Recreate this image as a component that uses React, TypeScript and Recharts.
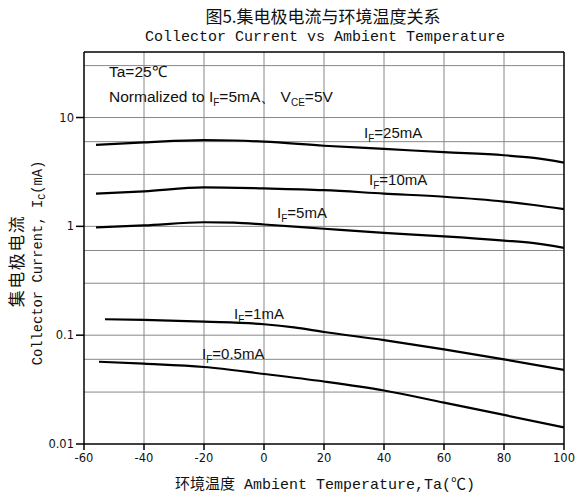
import React from 'react';
import { LineChart, Line, XAxis, YAxis, CartesianGrid, ReferenceLine } from 'recharts';

// temperatures (°C) and collector current (mA) per forward current
const temps25 = [-56, -40, -20, -10, 0, 20, 40, 60, 80, 90, 100];
const ic25 = [5.6, 5.9, 6.2, 6.15, 6.0, 5.5, 5.15, 4.8, 4.5, 4.25, 3.85];

const temps10 = [-56, -40, -20, 0, 20, 40, 60, 80, 90, 100];
const ic10 = [2.0, 2.1, 2.28, 2.23, 2.15, 2.0, 1.87, 1.69, 1.57, 1.44];

const temps5 = [-56, -40, -20, -10, 0, 20, 40, 60, 80, 90, 100];
const ic5 = [0.98, 1.02, 1.09, 1.08, 1.04, 0.95, 0.87, 0.81, 0.74, 0.7, 0.635];

const temps1 = [-53, -40, -20, 0, 10, 20, 40, 60, 80, 100];
const ic1 = [0.14, 0.138, 0.133, 0.126, 0.118, 0.107, 0.09, 0.074, 0.06, 0.048];

const temps05 = [-55, -40, -20, 0, 20, 40, 60, 80, 100];
const ic05 = [0.057, 0.0547, 0.051, 0.044, 0.0375, 0.031, 0.024, 0.0185, 0.0142];

const xTicks = [-60, -40, -20, 0, 20, 40, 60, 80, 100];
const yTicks = [0.01, 0.1, 1, 10];
const minorY = [
  0.02, 0.03, 0.04, 0.05, 0.06, 0.07, 0.08, 0.09, 0.1,
  0.2, 0.3, 0.4, 0.5, 0.6, 0.7, 0.8, 0.9, 1,
  2, 3, 4, 5, 6, 7, 8, 9, 10, 20, 30,
];

const toRows = (t: number[], v: number[]) => t.map((x, i) => ({ t: x, ic: v[i] }));

const series = [
  { key: '25', data: toRows(temps25, ic25) },
  { key: '10', data: toRows(temps10, ic10) },
  { key: '5', data: toRows(temps5, ic5) },
  { key: '1', data: toRows(temps1, ic1) },
  { key: '0.5', data: toRows(temps05, ic05) },
];

const labelFont = '"Liberation Sans", Arial, sans-serif';
const monoFont = '"Liberation Mono", "Noto Sans CJK SC", monospace';

function IfLabel({ x, y, value }: { x: number; y: number; value: string }) {
  return (
    <div style={{ position: 'absolute', left: x, top: y - 10, fontFamily: labelFont, fontSize: 15, color: '#111', whiteSpace: 'nowrap', lineHeight: '20px' }}>
      I<span style={{ fontSize: 10, position: 'relative', top: 4 }}>F</span>={value}mA
    </div>
  );
}

export default function App() {
  return (
    <div style={{ position: 'absolute', left: 0, top: 0, width: 582, height: 502, background: '#fff' }}>
      <LineChart width={582} height={502} margin={{ top: 52, right: 18, bottom: 0, left: 0 }}>
        <CartesianGrid
          stroke="#888"
          horizontalValues={minorY}
          verticalValues={[-40, -20, 0, 20, 40, 60, 80]}
        />
        <XAxis
          type="number"
          dataKey="t"
          domain={[-60, 100]}
          ticks={xTicks}
          allowDataOverflow
          height={58}
          tickSize={6}
          tickMargin={4}
          stroke="#000"
          strokeWidth={1.5}
          tick={{ fill: '#111', fontSize: 11.5, fontFamily: '"DejaVu Sans", sans-serif' }}
        />
        <YAxis
          type="number"
          scale="log"
          domain={[0.01, 40]}
          ticks={yTicks}
          allowDataOverflow
          width={84}
          tickSize={8}
          tickMargin={2}
          stroke="#000"
          strokeWidth={1.5}
          tickFormatter={(v: number) => String(v)}
          tick={{ fill: '#111', fontSize: 11.5, fontFamily: '"DejaVu Sans", sans-serif' }}
        />
        <ReferenceLine y={40} stroke="#000" strokeWidth={1.5} />
        <ReferenceLine x={100} stroke="#000" strokeWidth={1.5} />
        {series.map(s => (
          <Line
            key={s.key}
            data={s.data}
            dataKey="ic"
            type="monotone"
            stroke="#000"
            strokeWidth={2.2}
            dot={false}
            isAnimationActive={false}
          />
        ))}
      </LineChart>

      <div style={{ position: 'absolute', left: 0, width: 582, top: 5, textAlign: 'center', paddingLeft: 64, boxSizing: 'border-box', fontFamily: '"Noto Sans CJK SC", sans-serif', fontSize: 17, lineHeight: '22px', color: '#111' }}>
        图5.集电极电流与环境温度关系
      </div>
      <div style={{ position: 'absolute', left: 0, width: 582, top: 28, textAlign: 'center', paddingLeft: 68, boxSizing: 'border-box', fontFamily: monoFont, fontSize: 15, lineHeight: '20px', color: '#111' }}>
        Collector Current vs Ambient Temperature
      </div>
      <div style={{ position: 'absolute', left: 0, width: 582, top: 476, textAlign: 'center', paddingLeft: 68, boxSizing: 'border-box', fontFamily: monoFont, fontSize: 15, lineHeight: '20px', color: '#111' }}>
        环境温度 Ambient Temperature,Ta(℃)
      </div>
      <div style={{ position: 'absolute', left: 15, top: 261, transform: 'translate(-50%, -50%) rotate(-90deg)', fontFamily: '"Noto Sans CJK SC", sans-serif', fontSize: 17, letterSpacing: 1.5, whiteSpace: 'nowrap', color: '#111' }}>
        集电极电流
      </div>
      <div style={{ position: 'absolute', left: 38, top: 263, transform: 'translate(-50%, -50%) rotate(-90deg)', fontFamily: monoFont, fontSize: 13.8, whiteSpace: 'nowrap', color: '#111' }}>
        Collector Current, I<span style={{ fontSize: 10, position: 'relative', top: 3 }}>C</span>(mA)
      </div>

      <div style={{ position: 'absolute', left: 109, top: 62, fontFamily: labelFont, fontSize: 15.5, lineHeight: '20px', color: '#111' }}>
        Ta=25℃
      </div>
      <div style={{ position: 'absolute', left: 109, top: 87, fontFamily: labelFont, fontSize: 15.5, lineHeight: '20px', color: '#111', whiteSpace: 'nowrap' }}>
        Normalized to I<span style={{ fontSize: 10, position: 'relative', top: 4 }}>F</span>=5mA、 V<span style={{ fontSize: 10, position: 'relative', top: 4 }}>CE</span>=5V
      </div>

      <IfLabel x={364} y={133} value="25" />
      <IfLabel x={369} y={180} value="10" />
      <IfLabel x={277} y={213} value="5" />
      <IfLabel x={234} y={314} value="1" />
      <IfLabel x={202} y={354} value="0.5" />
    </div>
  );
}
